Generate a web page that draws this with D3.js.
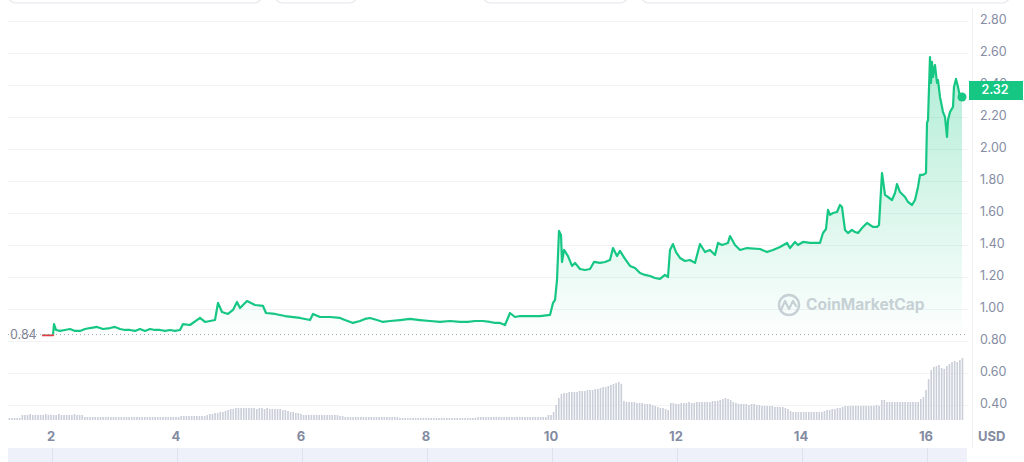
<!DOCTYPE html>
<html>
<head>
<meta charset="utf-8">
<script src="https://cdn.jsdelivr.net/npm/d3@7"></script>
<style>
html, body { margin: 0; padding: 0; background: #fff; }
svg { display: block; font-family: Inter, "Noto Sans", sans-serif; }
</style>
</head>
<body>
<svg id="chart" width="1024" height="462"></svg>
<script>
// price points: [day, price usd]
var priceSeries = [
  [1.856,0.836],[2.032,0.836],[2.048,0.906],[2.08,0.869],[2.144,0.863],[2.224,0.869],[2.304,0.875],[2.384,0.863],
  [2.464,0.863],[2.544,0.875],[2.624,0.881],[2.736,0.888],[2.832,0.875],[2.944,0.881],[3.024,0.888],[3.104,0.875],
  [3.184,0.869],[3.264,0.869],[3.344,0.863],[3.424,0.875],[3.504,0.863],[3.584,0.875],[3.664,0.869],[3.744,0.869],
  [3.824,0.863],[3.904,0.869],[3.984,0.863],
  [4.064,0.869],[4.112,0.906],[4.224,0.9],[4.384,0.944],[4.464,0.919],[4.624,0.931],[4.672,1.038],[4.736,0.981],
  [4.832,0.969],[4.912,0.994],[4.976,1.044],[5.024,1.006],[5.136,1.05],[5.264,1.025],[5.392,1.019],[5.44,0.975],
  [5.584,0.969],[5.744,0.956],[5.984,0.944],[6.144,0.931],[6.192,0.969],[6.304,0.95],[6.464,0.95],[6.624,0.944],
  [6.704,0.931],[6.832,0.913],[6.944,0.925],[7.024,0.938],[7.104,0.944],[7.216,0.931],[7.312,0.919],[7.424,0.925],
  [7.584,0.931],[7.744,0.938],[7.904,0.931],[8.064,0.925],[8.224,0.919],[8.384,0.925],[8.544,0.919],[8.672,0.919],
  [8.784,0.925],[8.912,0.925],[9.024,0.919],[9.104,0.913],[9.184,0.913],[9.264,0.9],[9.344,0.975],[9.424,0.95],
  [9.504,0.956],[9.824,0.956],
  [9.984,0.963],[10.032,1.038],[10.064,1.056],[10.096,1.181],[10.128,1.488],[10.16,1.463],[10.176,1.294],[10.208,1.369],
  [10.272,1.331],[10.336,1.269],[10.384,1.288],[10.464,1.25],[10.544,1.244],[10.624,1.25],[10.688,1.294],[10.784,1.288],
  [10.864,1.294],[10.944,1.306],[10.992,1.381],[11.056,1.331],[11.104,1.363],[11.184,1.313],[11.264,1.269],[11.344,1.256],
  [11.424,1.225],[11.504,1.213],[11.584,1.206],[11.664,1.194],[11.744,1.188],[11.824,1.213],[11.872,1.2],[11.904,1.369],
  [11.952,1.406],[12.0,1.356],[12.064,1.319],[12.144,1.3],[12.224,1.306],[12.304,1.288],[12.384,1.406],[12.464,1.356],
  [12.544,1.369],[12.624,1.338],[12.672,1.413],[12.736,1.4],[12.832,1.413],[12.864,1.456],[12.944,1.4],[13.024,1.369],
  [13.136,1.381],[13.344,1.375],[13.456,1.356],[13.552,1.369],[13.664,1.388],[13.776,1.413],[13.824,1.381],[13.904,1.419],
  [13.952,1.4],[14.032,1.419],[14.144,1.413],[14.304,1.413],[14.352,1.475],[14.4,1.5],[14.432,1.619],[14.464,1.588],
  [14.512,1.6],[14.576,1.606],[14.624,1.65],[14.656,1.638],[14.672,1.588],[14.704,1.494],[14.752,1.475],[14.816,1.494],
  [14.864,1.481],[14.912,1.475],[14.992,1.513],[15.056,1.538],[15.104,1.525],[15.152,1.513],[15.216,1.513],[15.248,1.525],
  [15.296,1.85],[15.344,1.713],[15.392,1.7],[15.456,1.681],[15.504,1.725],[15.536,1.781],[15.584,1.731],[15.664,1.7],
  [15.712,1.669],[15.776,1.65],[15.824,1.681],[15.872,1.763],[15.904,1.838],[15.952,1.838],[16.0,1.85],[16.016,2.163],
  [16.032,2.181],[16.064,2.575],[16.08,2.413],[16.096,2.544],[16.112,2.45],[16.144,2.525],[16.176,2.413],[16.192,2.431],
  [16.224,2.325],[16.272,2.231],[16.304,2.2],[16.336,2.075],[16.352,2.181],[16.384,2.231],[16.432,2.263],[16.448,2.388],
  [16.48,2.438],[16.512,2.388],[16.544,2.325],[16.576,2.325]
];
var openPrice = 0.84;
var lastPrice = 2.32;

// hourly volume (relative units), first bar = day 1, 08:00
var volumeStartDay = 1 + 8 / 24;
var volumeHourly = [
  2,2,2,2,2,5,5,5,6,5,5,5,5,5,6,5,5,5,5,6,5,5,5,5,
  5,6,5,5,5,3,3,3,3,3,3,3,3,3,3,3,3,3,3,3,3,3,3,3,
  3,3,3,3,3,3,3,3,3,3,3,3,3,3,3,3,3,3,4,4,4,4,4,4,
  4,4,4,4,5,6,6,7,7,8,8,9,10,11,11,12,12,12,12,12,12,12,12,11,
  12,12,11,12,11,11,11,11,11,10,10,9,8,8,7,7,6,5,5,5,5,5,5,5,
  5,5,5,5,5,5,5,4,4,3,3,3,3,3,3,3,3,3,3,3,3,3,3,3,
  3,3,3,3,3,3,2,2,2,2,2,2,2,2,2,2,2,2,2,2,2,2,2,2,
  2,2,2,2,2,2,2,2,2,2,2,2,3,3,3,3,3,3,3,3,3,3,3,3,
  3,3,3,3,3,3,3,3,3,3,3,3,3,3,3,5,5,8,15,22,26,27,27,28,
  28,28,28,29,29,29,30,30,30,31,31,32,33,33,34,35,36,37,38,36,19,18,18,18,
  18,17,17,17,16,16,16,15,14,13,12,12,11,10,17,17,16,16,17,17,17,18,17,17,
  18,18,18,18,18,18,19,19,19,20,21,22,21,20,18,17,16,16,16,16,15,16,16,15,
  15,14,14,14,14,14,13,13,13,13,12,11,9,8,8,8,8,8,8,8,8,8,8,8,
  8,9,10,10,11,11,12,12,13,14,14,14,14,14,14,14,14,14,14,14,14,15,14,20,
  20,18,18,18,18,18,18,18,18,18,18,18,18,18,21,23,30,41,50,53,54,55,52,51,
  54,56,58,59,58,60,62
];

var dayTicks = [2, 4, 6, 8, 10, 12, 14, 16];
var priceTicks = [0.4, 0.6, 0.8, 1.0, 1.2, 1.4, 1.6, 1.8, 2.0, 2.2, 2.4, 2.6, 2.8];

var svg = d3.select("#chart");
var left = 8, right = 968;
var green = "#16c784", red = "#ea3943", labelGrey = "#858ca2";

var x = d3.scaleLinear().domain([2, 16]).range([51, 926]);
var y = d3.scaleLinear().domain([0.4, 2.8]).range([405, 21]);
var yv = d3.scaleLinear().domain([0, 70]).range([420, 350]);
var baseY = y(openPrice);

var defs = svg.append("defs");
var grad = defs.append("linearGradient").attr("id", "areaGrad")
  .attr("gradientUnits", "userSpaceOnUse").attr("x1", 0).attr("x2", 0)
  .attr("y1", y(2.6)).attr("y2", baseY);
grad.append("stop").attr("offset", 0).attr("stop-color", green).attr("stop-opacity", 0.34);
grad.append("stop").attr("offset", 1).attr("stop-color", green).attr("stop-opacity", 0.01);
defs.append("clipPath").attr("id", "aboveBase").append("rect")
  .attr("x", 0).attr("y", 0).attr("width", 1024).attr("height", baseY);
defs.append("clipPath").attr("id", "belowBase").append("rect")
  .attr("x", 0).attr("y", baseY).attr("width", 1024).attr("height", 462 - baseY);

// top controls (cut off)
[[8, 262], [275, 357], [483, 628], [641, 1010]].forEach(function(b) {
  svg.append("rect").attr("x", b[0]).attr("y", -30).attr("width", b[1] - b[0]).attr("height", 33)
    .attr("rx", 8).attr("fill", "#fff").attr("stroke", "#e4e6eb").attr("stroke-width", 1.2);
});

// grid
svg.append("g").selectAll("line").data(priceTicks).enter().append("line")
  .attr("x1", left).attr("x2", right)
  .attr("y1", function(d) { return Math.round(y(d)) + 0.5; })
  .attr("y2", function(d) { return Math.round(y(d)) + 0.5; })
  .attr("stroke", "#f2f3f5").attr("stroke-width", 1);
svg.append("line").attr("x1", 972.5).attr("x2", 972.5).attr("y1", 8).attr("y2", 448)
  .attr("stroke", "#f0f1f3");

// volume
svg.append("g").selectAll("rect").data(volumeHourly).enter().append("rect")
  .attr("x", function(d, i) { return x(volumeStartDay + i / 24) - 0.8; })
  .attr("width", 1.6)
  .attr("y", function(d) { return yv(d); })
  .attr("height", function(d) { return yv(0) - yv(d); })
  .attr("fill", "#c9ced8");

// watermark
var wm = svg.append("g").attr("opacity", 0.9);
wm.append("circle").attr("cx", 789).attr("cy", 305).attr("r", 10)
  .attr("fill", "none").attr("stroke", "#c9cdd5").attr("stroke-width", 2.4);
wm.append("path").attr("d", "M781,310 L785,301 L789,309 L793,301 L796,306")
  .attr("fill", "none").attr("stroke", "#c9cdd5").attr("stroke-width", 2.2)
  .attr("stroke-linecap", "round").attr("stroke-linejoin", "round");
wm.append("text").attr("x", 806).attr("y", 306).attr("dominant-baseline", "middle")
  .attr("font-size", 15.5).attr("font-weight", 700).attr("fill", "#c9cdd5").text("CoinMarketCap");

// area + line
var area = d3.area().x(function(d) { return x(d[0]); }).y0(baseY).y1(function(d) { return y(d[1]); });
var line = d3.line().x(function(d) { return x(d[0]); }).y(function(d) { return y(d[1]); });
svg.append("path").datum(priceSeries).attr("d", area).attr("fill", "url(#areaGrad)")
  .attr("clip-path", "url(#aboveBase)");

svg.append("line").attr("x1", left).attr("x2", right).attr("y1", baseY).attr("y2", baseY)
  .attr("stroke", "#a3a8b3").attr("stroke-width", 1).attr("stroke-dasharray", "1,3");

svg.append("path").datum(priceSeries).attr("d", line).attr("fill", "none")
  .attr("stroke", green).attr("stroke-width", 2.2).attr("stroke-linejoin", "round")
  .attr("clip-path", "url(#aboveBase)");
svg.append("path").datum(priceSeries).attr("d", line).attr("fill", "none")
  .attr("stroke", red).attr("stroke-width", 2.2).attr("stroke-linejoin", "round")
  .attr("clip-path", "url(#belowBase)");

var lastPt = priceSeries[priceSeries.length - 1];
svg.append("circle").attr("cx", x(lastPt[0])).attr("cy", y(lastPt[1])).attr("r", 4.5).attr("fill", green);

// y axis labels (2.40 sits partly behind the price tag, as in the original)
svg.append("g").selectAll("text").data(priceTicks).enter().append("text")
  .attr("x", 980).attr("y", function(d) { return y(d); })
  .attr("dominant-baseline", "middle").attr("font-size", 12.5).attr("fill", labelGrey)
  .text(function(d) { return d.toFixed(2); });
svg.append("text").attr("x", 978).attr("y", 437).attr("dominant-baseline", "middle")
  .attr("font-size", 13).attr("font-weight", 700).attr("fill", labelGrey).text("USD");

// current price tag
svg.append("rect").attr("x", 969).attr("y", 81).attr("width", 54).attr("height", 19).attr("fill", green);
svg.append("text").attr("x", 995).attr("y", 91).attr("text-anchor", "middle").attr("dominant-baseline", "middle")
  .attr("font-size", 12.5).attr("font-weight", 600).attr("fill", "#fff").text(lastPrice.toFixed(2));

// open price label
svg.append("text").attr("x", 10).attr("y", baseY + 1).attr("dominant-baseline", "middle")
  .attr("font-size", 12.5).attr("fill", "#7e8594").text(openPrice.toFixed(2));

// x axis labels
svg.append("g").selectAll("text").data(dayTicks).enter().append("text")
  .attr("x", function(d) { return x(d); }).attr("y", 437)
  .attr("text-anchor", "middle").attr("dominant-baseline", "middle")
  .attr("font-size", 13).attr("font-weight", 700).attr("fill", labelGrey)
  .text(function(d) { return d; });

// bottom navigator strip
svg.append("rect").attr("x", left).attr("y", 448).attr("width", 959).attr("height", 14).attr("fill", "#eef1fa");
svg.append("g").selectAll("line").data(dayTicks).enter().append("line")
  .attr("x1", function(d) { return x(d) + 1.5; }).attr("x2", function(d) { return x(d) + 1.5; })
  .attr("y1", 448).attr("y2", 462).attr("stroke", "#dde2ee");
</script>
</body>
</html>
